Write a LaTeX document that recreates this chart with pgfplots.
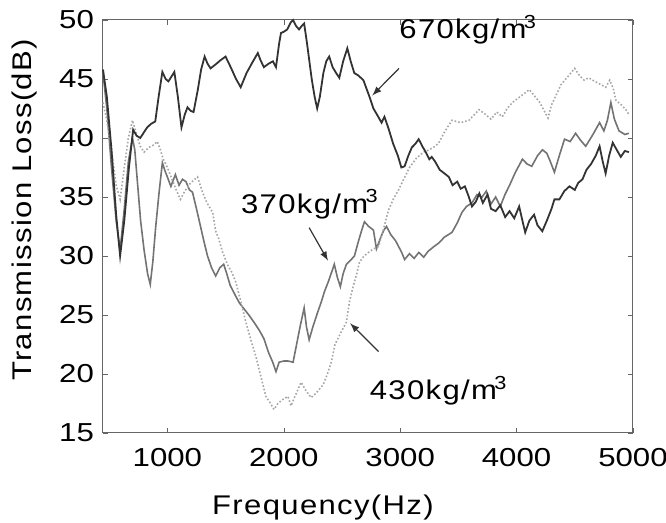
\documentclass[border=0pt]{standalone}
\usepackage{fontspec}
\setmainfont{Liberation Sans}
\newfontfamily\tickfont{Liberation Sans}[FakeStretch=1.2]
\newfontfamily\labfont{Liberation Sans}[FakeStretch=1.15, LetterSpace=5]
\usepackage{pgfplots}
\pgfplotsset{compat=1.18}

% 670 kg/m3 (dark solid)
\pgfplotstableread{
f tl
447 45.8
480 43.5
520 39.0
560 33.5
594 30.0
630 33.0
670 37.5
706 40.7
735 40.2
767 40.0
800 40.5
827 40.9
860 41.2
896 41.4
925 43.5
957 45.6
985 45.0
1009 44.8
1035 45.2
1060 45.6
1090 43.5
1121 40.9
1150 42.0
1173 42.6
1200 42.3
1225 42.2
1260 44.0
1290 45.8
1320 46.9
1345 46.3
1371 45.9
1410 46.2
1458 46.6
1500 46.9
1544 46.0
1590 45.0
1630 44.3
1680 45.5
1730 46.4
1777 47.2
1800 46.6
1829 46.0
1870 46.3
1907 46.5
1933 46.0
1960 48.0
1976 48.9
2000 49.0
2030 49.2
2060 49.8
2080 50.0
2105 49.5
2131 49.2
2155 49.5
2175 49.7
2200 48.0
2240 45.0
2265 43.5
2287 42.5
2310 43.5
2340 45.5
2365 46.5
2390 46.9
2420 46.0
2450 45.5
2477 45.1
2510 46.5
2546 47.6
2575 46.5
2606 45.5
2640 45.3
2684 44.9
2710 44.2
2736 43.5
2770 42.5
2800 42.0
2840 41.3
2865 41.8
2900 40.8
2940 39.5
2980 38.5
3010 37.5
3038 37.6
3070 38.5
3100 39.2
3130 39.5
3159 39.9
3190 39.3
3220 38.8
3250 38.2
3271 38.4
3300 38.0
3340 37.3
3380 37.0
3418 36.7
3450 36.0
3490 36.3
3520 35.7
3556 35.9
3590 35.0
3617 34.2
3650 34.6
3680 35.3
3710 34.5
3750 35.2
3780 34.0
3820 33.8
3860 34.3
3902 33.3
3940 33.8
3980 33.2
4022 34.2
4050 33.0
4074 32.0
4110 33.0
4150 33.5
4180 32.6
4221 32.1
4260 33.0
4300 34.0
4325 34.8
4368 34.8
4410 35.5
4454 35.9
4500 35.6
4530 36.2
4566 36.5
4600 37.3
4640 37.8
4680 38.5
4713 39.3
4740 38.0
4765 37.0
4795 38.5
4826 39.6
4860 39.0
4895 38.4
4930 38.9
4965 38.8
}\dataA

% 370 kg/m3 (grey solid)
\pgfplotstableread{
f tl
447 45.5
480 42.5
520 37.5
560 33.0
594 30.5
630 34.0
665 38.0
700 40.0
720 39.0
745 36.0
770 33.0
800 30.5
830 28.5
853 27.6
875 29.5
900 32.5
930 35.5
957 37.9
980 37.2
1000 36.7
1030 35.9
1069 36.9
1100 36.0
1130 36.5
1160 36.3
1190 35.6
1216 35.4
1250 34.0
1285 32.5
1315 31.2
1345 30.0
1380 29.0
1415 28.3
1450 29.0
1484 29.3
1510 28.5
1540 27.5
1587 26.6
1620 26.0
1660 25.5
1700 25.0
1743 24.4
1790 23.7
1829 23.0
1870 21.8
1905 21.0
1933 20.2
1960 21.0
2000 21.1
2036 21.1
2080 21.0
2110 22.5
2140 24.0
2175 25.6
2195 24.0
2218 22.9
2250 24.0
2290 25.2
2322 26.1
2350 27.0
2382 27.8
2410 28.6
2434 29.3
2460 28.2
2486 27.4
2510 28.5
2538 29.3
2570 29.6
2607 30.0
2640 31.2
2670 32.2
2693 32.9
2730 32.5
2770 32.2
2785 31.3
2796 30.6
2830 31.5
2860 32.2
2883 32.5
2920 31.8
2960 31.3
3013 30.3
3038 29.7
3080 30.2
3120 29.8
3160 30.3
3202 29.9
3240 30.4
3290 30.8
3332 31.1
3380 31.6
3445 32.0
3490 32.8
3531 33.7
3570 34.2
3617 34.5
3660 35.2
3704 35.0
3740 35.5
3780 34.4
3820 35.0
3860 34.2
3900 35.2
3940 36.0
3990 37.1
4050 38.2
4090 37.8
4130 37.6
4180 38.5
4222 39.0
4260 38.7
4290 38.0
4325 37.1
4370 38.6
4412 39.9
4460 39.7
4507 40.4
4550 39.8
4594 39.3
4650 40.2
4713 41.3
4750 40.6
4780 41.5
4810 43.0
4840 41.6
4880 40.6
4930 40.3
4965 40.4
}\dataB

% 430 kg/m3 (light dotted)
\pgfplotstableread{
f tl
447 43.0
480 41.5
520 39.0
560 36.0
594 34.8
630 37.5
665 40.0
700 41.5
730 40.5
767 39.3
800 38.8
840 39.2
880 39.4
914 39.7
940 39.0
965 38.2
1000 37.5
1040 36.5
1080 35.5
1112 34.8
1150 35.5
1200 36.2
1259 36.7
1302 35.4
1340 34.5
1389 33.7
1415 32.1
1440 31.5
1475 30.3
1520 29.2
1555 28.6
1587 27.8
1630 26.2
1674 24.4
1720 22.8
1760 21.5
1803 19.8
1846 18.1
1880 17.6
1916 17.0
1950 17.5
1985 17.8
2036 18.1
2062 17.3
2100 18.2
2149 19.3
2190 18.6
2235 18.0
2280 18.4
2339 19.1
2375 20.0
2408 21.0
2440 22.5
2490 23.5
2538 24.4
2564 26.1
2590 27.2
2607 27.8
2630 28.6
2650 29.5
2690 30.0
2728 30.3
2770 30.6
2814 30.8
2860 32.4
2900 33.9
2940 34.8
2986 35.6
3030 36.5
3080 37.5
3140 38.3
3200 38.8
3250 39.0
3300 39.3
3332 39.6
3380 40.5
3445 41.5
3520 41.3
3590 41.5
3640 42.0
3677 42.4
3720 42.1
3780 41.6
3830 42.2
3877 41.8
3920 42.5
3963 43.0
4030 43.5
4110 44.1
4160 43.5
4200 43.0
4248 42.1
4270 41.7
4300 42.8
4334 43.5
4380 44.5
4440 45.2
4499 45.9
4540 45.3
4580 44.9
4620 45.1
4654 44.9
4710 44.6
4766 44.3
4800 44.9
4830 44.2
4853 43.2
4900 42.8
4939 42.4
4965 42.0
}\dataC

\begin{document}
\begin{tikzpicture}[font=\labfont\fontsize{13.5}{16}\selectfont]
\begin{axis}[
  scale only axis, width=265pt, height=206.5pt,
  xmin=447, xmax=5000, ymin=15, ymax=50,
  xtick={1000,2000,3000,4000,5000},
  ytick={15,20,25,30,35,40,45,50},
  /pgf/number format/.cd, 1000 sep={}, assume math mode=true, /pgfplots/.cd,
  tick label style={font=\tickfont\fontsize{13}{15}\selectfont},
  tick align=inside, major tick length=2.5pt,
  tick style={black!60},
  axis line style={black!60, line width=0.5pt},
  xticklabel style={yshift=-4pt},
  yticklabel style={xshift=-1pt},
  xlabel={Frequency(Hz)}, ylabel={Transmission Loss(dB)},
  every axis x label/.style={at={(axis description cs:0.415,-0.18)}, anchor=center},
  every axis y label/.style={at={(axis description cs:-0.148,0.54)}, rotate=90, anchor=center},
  clip=false]
\addplot[black!55, line width=0.8pt] table[x=f, y=tl] {\dataB};
\addplot[black!35, line width=0.8pt, densely dotted] table[x=f, y=tl] {\dataC};
\addplot[black!80, line width=0.9pt] table[x=f, y=tl] {\dataA};

\node[anchor=west, inner sep=0pt] at (axis cs:2990,49.2) {670kg/m\kern-0.1em\textsuperscript{3}};
\draw[-latex, line width=0.6pt, black!80] (axis cs:2990,45.9) -- (axis cs:2760,43.6);

\node[anchor=west, inner sep=0pt] at (axis cs:1630,34.4) {370kg/m\kern-0.1em\textsuperscript{3}};
\draw[-latex, line width=0.6pt, black!80] (axis cs:2218,32.4) -- (axis cs:2380,29.6);

\node[anchor=west, inner sep=0pt] at (axis cs:2736,18.6) {430kg/m\kern-0.1em\textsuperscript{3}};
\draw[-latex, line width=0.6pt, black!80] (axis cs:2814,21.9) -- (axis cs:2570,24.3);
\end{axis}
\pgfresetboundingbox
\path[use as bounding box] (-51.5pt,-45pt) rectangle (281.5pt,216.5pt);
\end{tikzpicture}
\end{document}
